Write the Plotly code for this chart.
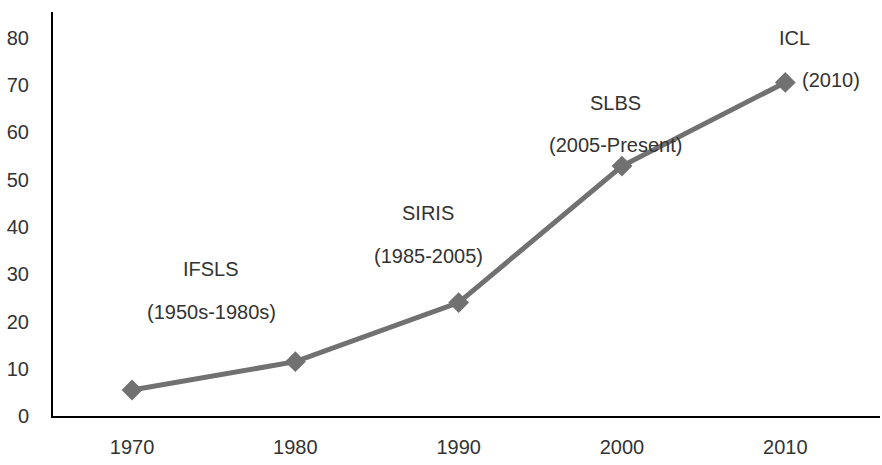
import plotly.graph_objects as go

years = ["1970", "1980", "1990", "2000", "2010"]
values = [5.5, 11.5, 24.0, 52.9, 70.6]
y_ticks = [0, 10, 20, 30, 40, 50, 60, 70, 80]

label_names = ["IFSLS", "SIRIS", "SLBS", "ICL"]
label_periods = ["(1950s-1980s)", "(1985-2005)", "(2005-Present)", "(2010)"]
name_pos = [(0.484, 31.1), (1.813, 43.0), (2.959, 66.2), (4.055, 80.0)]
period_pos = [(0.484, 22.0), (1.813, 33.9), (2.959, 57.4), (4.282, 71.1)]

font = dict(family="Liberation Sans, Arial, sans-serif", size=20, color="#333333")

fig = go.Figure()
fig.add_trace(go.Scatter(
    x=list(range(len(years))), y=values, mode="lines+markers",
    line=dict(color="#717171", width=5),
    marker=dict(symbol="diamond", size=16, color="#717171"),
    showlegend=False, hoverinfo="skip",
))

annotations = []
for t, (x, y) in zip(label_names, name_pos):
    annotations.append(dict(x=x, y=y, xref="x", yref="y", text=t, showarrow=False, font=font))
for t, (x, y) in zip(label_periods, period_pos):
    annotations.append(dict(x=x, y=y, xref="x", yref="y", text=t, showarrow=False, font=font))

fig.update_layout(
    width=882, height=465,
    margin=dict(l=53, r=2, t=12, b=49),
    paper_bgcolor="white", plot_bgcolor="white",
    font=font,
    annotations=annotations,
    xaxis=dict(
        range=[-0.484, 4.58], tickvals=list(range(len(years))), ticktext=years,
        showgrid=False, zeroline=False, showline=True, linecolor="#000000", linewidth=2,
        ticks="", tickfont=font, ticklabelstandoff=12,
    ),
    yaxis=dict(
        range=[0, 85.5], tickvals=y_ticks, showgrid=False, zeroline=False,
        showline=True, linecolor="#000000", linewidth=2, ticks="", tickfont=font,
        ticklabelstandoff=18,
    ),
)

fig.write_html("out.html")
